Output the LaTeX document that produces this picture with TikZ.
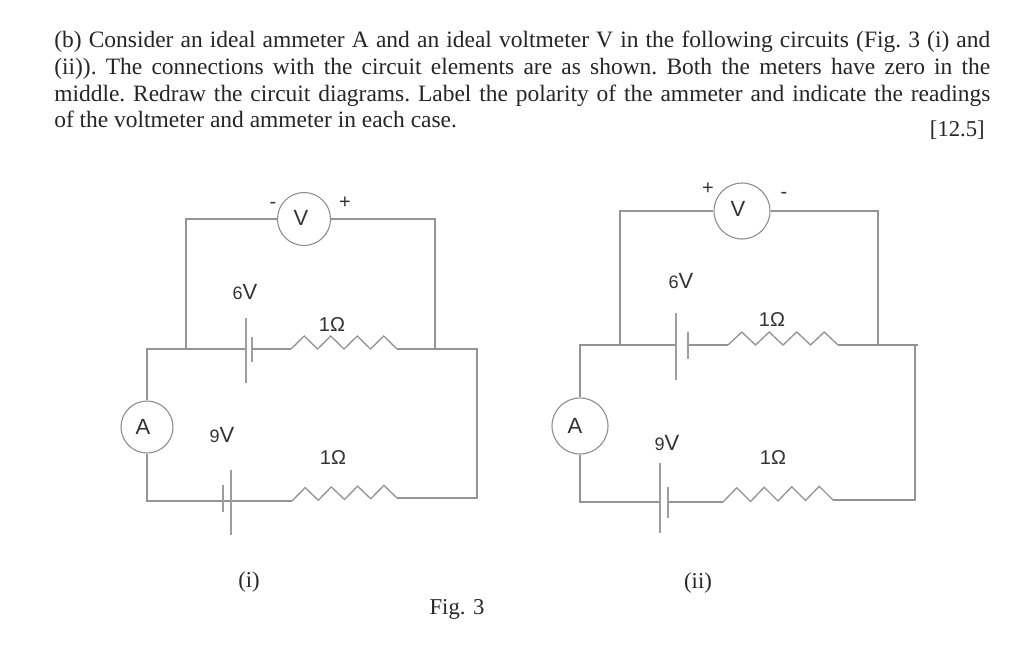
\documentclass[tikz,border=0pt]{standalone}
\usepackage{fontspec}
\setmainfont{Liberation Serif}
\newfontfamily\labfont{Liberation Sans}
\usepackage{tikz}
\usetikzlibrary{calc}

\tikzset{
  wire/.style={draw=black!42, line width=1pt},
  plate/.style={draw=black!38, line width=1pt},
  meter/.style={circle, draw=black!45, line width=0.8pt, minimum size=#1, inner sep=0pt},
  lab/.style={font=\labfont\fontsize{15}{15}\selectfont, text=black!80, inner sep=0pt},
  voltlab/.style={lab, font=\labfont\fontsize{16.5}{16.5}\selectfont},
  methlab/.style={lab, font=\labfont\fontsize{16.5}{16.5}\selectfont},
  txt/.style={font=\fontsize{17}{20}\selectfont, text=black!85, inner sep=0pt},
}
% resistor bumps: from (#1) to (#2), height #3
\newcommand{\bumps}[3]{
  \draw[wire, line join=miter] (#1)
    \foreach \k in {1,...,7} {
      -- ($(#1)!\k/8!(#2)+(0,{mod(\k,2)*#3})$)
    } -- (#2);
}
\newcommand{\smalldigit}[1]{{\fontsize{13.5}{13.5}\selectfont #1}}

\begin{document}
\begin{tikzpicture}[x=0.75pt,y=-0.75pt]
  \useasboundingbox[fill=white] (0,0) rectangle (1024,654);

  % Question text
  \node[txt, anchor=north west, text width=702pt, align=justify] (question) at (54,31) {
    \fontsize{17.6}{20.25}\selectfont\frenchspacing
    (b) Consider an ideal ammeter A and an ideal voltmeter V in the following circuits (Fig. 3 (i) and\linebreak
    (ii)). The connections with the circuit elements are as shown. Both the meters have zero in the\linebreak
    middle. Redraw the circuit diagrams. Label the polarity of the ammeter and indicate the readings\linebreak
    of the voltmeter and ammeter in each case.
  };
  \node[txt, anchor=base east] (marks) at (985,136) {[12.5]};

  % Circuit (i)
  \node[meter=53pt*0.75] (Vi) at (304,219) {};
  \node[meter=52pt*0.75] (Ai) at (147,427) {};
  \node[methlab] (Vitxt) at (301,218) {V};
  \node[methlab] (Aitxt) at (143,427) {A};
  \coordinate (ia) at (186,219);
  \coordinate (ib) at (186,349);
  \coordinate (ic) at (435,219);
  \coordinate (id) at (435,349);
  \coordinate (ie) at (147,349);
  \coordinate (if) at (477,349);
  \coordinate (ig) at (477,498);
  \coordinate (ih) at (147,501);
  \coordinate (ip) at (246,349);
  \coordinate (iq) at (252,349);
  \coordinate (ir) at (291,349);
  \coordinate (is) at (397,349);
  \coordinate (iu) at (292,501);
  \coordinate (iv) at (397,498);
  \draw[wire] (Vi) -- (ia) -- (ib);
  \draw[wire] (Vi) -- (ic) -- (id);
  \draw[wire] (Ai) -- (ie) -- (ip);
  \draw[wire] (iq) -- (ir);
  \draw[wire] (is) -- (if) -- (ig) -- (iv);
  \draw[wire] (Ai) -- (ih) -- (iu);
  \bumps{ir}{is}{-13}
  \bumps{iu}{iv}{-13}
  \draw[plate] (246,318) -- (246,383);
  \draw[plate] (252,337) -- (252,362);
  \draw[plate] (223,485) -- (223,512);
  \draw[plate] (231,470) -- (231,535);
  \node[lab] (Vminus) at (273,205) {-};
  \node[lab] (Vplus) at (345,203) {+};
  \node[voltlab] (sixi) at (245,292) {\smalldigit{6}V};
  \node[lab] (ohmi) at (332,325) {1Ω};
  \node[voltlab] (ninei) at (222,435) {\smalldigit{9}V};
  \node[lab] (ohmii) at (333,458) {1Ω};
  \node[txt] (capi) at (249,582) {(i)};

  % Circuit (ii)
  \node[meter=56pt*0.75] (Vj) at (742,211) {};
  \node[meter=56pt*0.75] (Aj) at (580,426) {};
  \node[methlab] (Vjtxt) at (738,209) {V};
  \node[methlab] (Ajtxt) at (575,426) {A};
  \coordinate (ja) at (620,211);
  \coordinate (jb) at (620,345);
  \coordinate (jc) at (878,211);
  \coordinate (jd) at (878,345);
  \coordinate (je) at (580,345);
  \coordinate (jf) at (918,345);
  \coordinate (jg) at (915,345);
  \coordinate (jh) at (915,500);
  \coordinate (ji) at (580,502);
  \coordinate (jp) at (676,345);
  \coordinate (jq) at (688,345);
  \coordinate (jr) at (728,345);
  \coordinate (js) at (838,345);
  \coordinate (jt) at (660,502);
  \coordinate (ju) at (668,502);
  \coordinate (jv) at (723,502);
  \coordinate (jw) at (833,500);
  \draw[wire] (Vj) -- (ja) -- (jb);
  \draw[wire] (Vj) -- (jc) -- (jd);
  \draw[wire] (Aj) -- (je) -- (jp);
  \draw[wire] (jq) -- (jr);
  \draw[wire] (js) -- (jf);
  \draw[wire] (jg) -- (jh) -- (jw);
  \draw[wire] (Aj) -- (ji) -- (jt);
  \draw[wire] (ju) -- (jv);
  \bumps{jr}{js}{-13}
  \bumps{jv}{jw}{-14}
  \draw[plate] (676,313) -- (676,380);
  \draw[plate] (688,332) -- (688,359);
  \draw[plate] (660,463) -- (660,533);
  \draw[plate] (668,487) -- (668,518);
  \node[lab] (Wplus) at (708,189) {+};
  \node[lab] (Wminus) at (784,195) {-};
  \node[voltlab] (sixj) at (681,281) {\smalldigit{6}V};
  \node[lab] (ohmj) at (772,320) {1Ω};
  \node[voltlab] (ninej) at (667,443) {\smalldigit{9}V};
  \node[lab] (ohmjj) at (773,458) {1Ω};
  \node[txt] (capj) at (698,583) {(ii)};

  \node[txt] (figcap) at (457,609) {Fig. 3};
\end{tikzpicture}
\end{document}
